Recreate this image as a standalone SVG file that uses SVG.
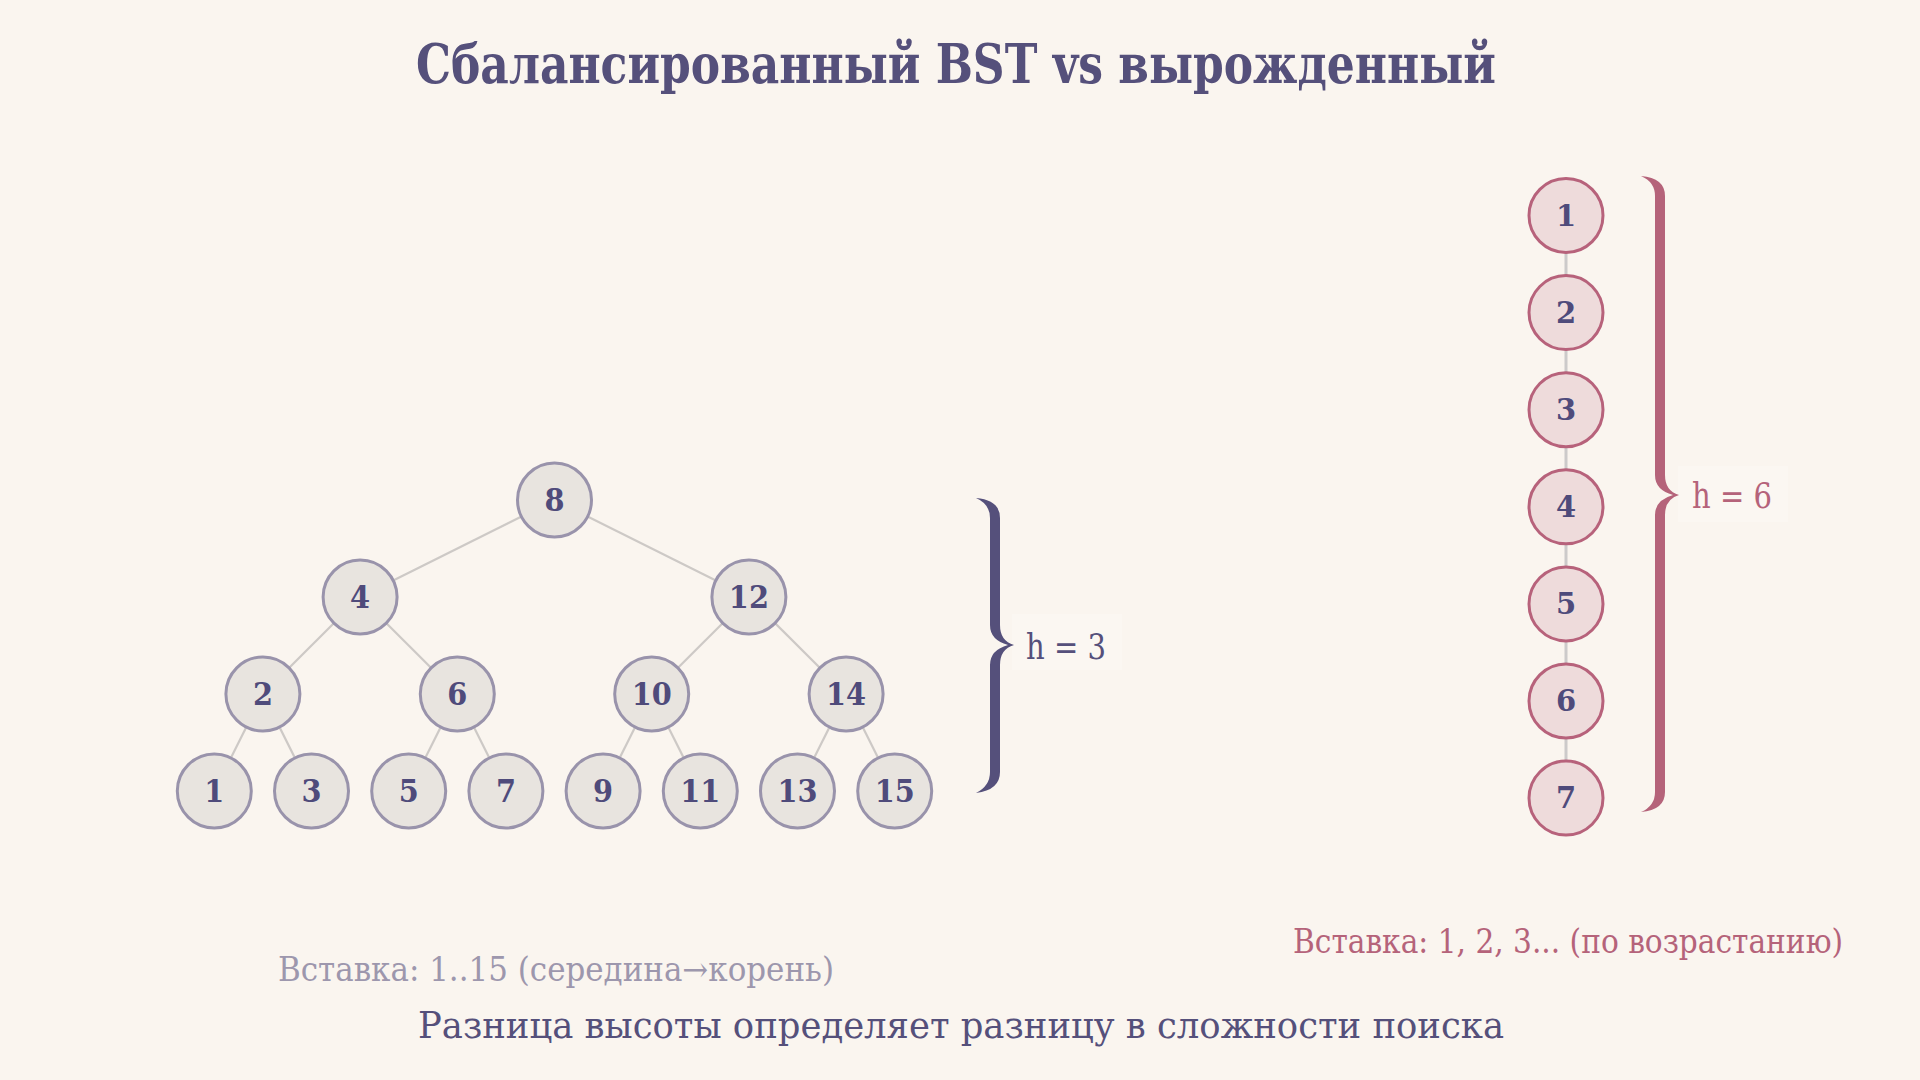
<svg xmlns="http://www.w3.org/2000/svg" width="1920" height="1080" viewBox="0 0 1920 1080">
<defs>
<style>
.bg{fill:#faf5ef}
.edge{stroke:#cdc9c6;stroke-width:2.2;fill:none}
.chainedge{stroke:#cccaca;stroke-width:3;fill:none}
.tn circle{fill:#e8e4df;stroke:#9993ab;stroke-width:3}
.tn text{font-family:"DejaVu Serif Condensed","DejaVu Serif",serif;font-weight:bold;font-size:32px;fill:#4f4b7b;text-anchor:middle}
.cn circle{fill:#eedbdb;stroke:#b7627b;stroke-width:3}
.cn text{font-family:"DejaVu Serif",serif;font-weight:bold;font-size:29px;fill:#4f4b7b;text-anchor:middle}
.title{font-family:"DejaVu Serif Condensed","DejaVu Serif",serif;font-weight:bold;font-size:55px;fill:#55507b}
.lbl{font-family:"DejaVu Serif Condensed","DejaVu Serif",serif;font-size:34px}
.h{font-family:"DejaVu Serif",serif;font-size:35px}
.hbg{fill:#fbf7f2}
</style>
</defs>
<rect class="bg" x="0" y="0" width="1920" height="1080"/>
<text class="title" x="416" y="83" textLength="1080" lengthAdjust="spacingAndGlyphs">Сбалансированный BST vs вырожденный</text>

<g id="connectors">
<line class="edge" x1="554.5" y1="500" x2="360.1" y2="597"/>
<line class="edge" x1="554.5" y1="500" x2="748.9" y2="597"/>
<line class="edge" x1="360.1" y1="597" x2="262.9" y2="694"/>
<line class="edge" x1="360.1" y1="597" x2="457.3" y2="694"/>
<line class="edge" x1="748.9" y1="597" x2="651.7" y2="694"/>
<line class="edge" x1="748.9" y1="597" x2="846.1" y2="694"/>
<line class="edge" x1="262.9" y1="694" x2="214.3" y2="791"/>
<line class="edge" x1="262.9" y1="694" x2="311.5" y2="791"/>
<line class="edge" x1="457.3" y1="694" x2="408.7" y2="791"/>
<line class="edge" x1="457.3" y1="694" x2="505.9" y2="791"/>
<line class="edge" x1="651.7" y1="694" x2="603.1" y2="791"/>
<line class="edge" x1="651.7" y1="694" x2="700.3" y2="791"/>
<line class="edge" x1="846.1" y1="694" x2="797.5" y2="791"/>
<line class="edge" x1="846.1" y1="694" x2="894.7" y2="791"/>
<line class="chainedge" x1="1566" y1="215.5" x2="1566" y2="798.1"/>
</g>

<g id="t8" class="tn"><circle cx="554.5" cy="500" r="37"/><text x="554.5" y="511">8</text></g>
<g id="t4" class="tn"><circle cx="360.1" cy="597" r="37"/><text x="360.1" y="608">4</text></g>
<g id="t12" class="tn"><circle cx="748.9" cy="597" r="37"/><text x="748.9" y="608">12</text></g>
<g id="t2" class="tn"><circle cx="262.9" cy="694" r="37"/><text x="262.9" y="705">2</text></g>
<g id="t6" class="tn"><circle cx="457.3" cy="694" r="37"/><text x="457.3" y="705">6</text></g>
<g id="t10" class="tn"><circle cx="651.7" cy="694" r="37"/><text x="651.7" y="705">10</text></g>
<g id="t14" class="tn"><circle cx="846.1" cy="694" r="37"/><text x="846.1" y="705">14</text></g>
<g id="t1" class="tn"><circle cx="214.3" cy="791" r="37"/><text x="214.3" y="802">1</text></g>
<g id="t3" class="tn"><circle cx="311.5" cy="791" r="37"/><text x="311.5" y="802">3</text></g>
<g id="t5" class="tn"><circle cx="408.7" cy="791" r="37"/><text x="408.7" y="802">5</text></g>
<g id="t7" class="tn"><circle cx="505.9" cy="791" r="37"/><text x="505.9" y="802">7</text></g>
<g id="t9" class="tn"><circle cx="603.1" cy="791" r="37"/><text x="603.1" y="802">9</text></g>
<g id="t11" class="tn"><circle cx="700.3" cy="791" r="37"/><text x="700.3" y="802">11</text></g>
<g id="t13" class="tn"><circle cx="797.5" cy="791" r="37"/><text x="797.5" y="802">13</text></g>
<g id="t15" class="tn"><circle cx="894.7" cy="791" r="37"/><text x="894.7" y="802">15</text></g>

<g id="c1" class="cn"><circle cx="1566" cy="215.5" r="37"/><text x="1566" y="226">1</text></g>
<g id="c2" class="cn"><circle cx="1566" cy="312.6" r="37"/><text x="1566" y="323">2</text></g>
<g id="c3" class="cn"><circle cx="1566" cy="409.7" r="37"/><text x="1566" y="420">3</text></g>
<g id="c4" class="cn"><circle cx="1566" cy="506.8" r="37"/><text x="1566" y="517">4</text></g>
<g id="c5" class="cn"><circle cx="1566" cy="603.9" r="37"/><text x="1566" y="614">5</text></g>
<g id="c6" class="cn"><circle cx="1566" cy="701" r="37"/><text x="1566" y="711">6</text></g>
<g id="c7" class="cn"><circle cx="1566" cy="798.1" r="37"/><text x="1566" y="808">7</text></g>

<g id="brace-balanced">
<rect class="hbg" x="1012" y="614" width="110" height="56"/>
<path fill="#55507b" d="M976 498 Q1000 500 1000 518 L1000 625 Q1000 641 1014 645 Q1000 649 1000 665 L1000 772 Q1000 790 976 793 Q990 786 990 772 L990 665 Q990 650 1008 645 Q990 640 990 625 L990 518 Q990 504 976 498 Z"/>
<text class="h" x="1026" y="659" fill="#55507b" textLength="80" lengthAdjust="spacingAndGlyphs">h = 3</text>
</g>

<g id="brace-degenerate">
<rect class="hbg" x="1678" y="466" width="110" height="56"/>
<path fill="#b5637a" d="M1641 176 Q1665 178 1665 196 L1665 475 Q1665 491 1679 495 Q1665 499 1665 515 L1665 792 Q1665 810 1641 812 Q1655 806 1655 792 L1655 515 Q1655 500 1673 495 Q1655 490 1655 475 L1655 196 Q1655 182 1641 176 Z"/>
<text class="h" x="1692" y="508" fill="#b5637a" textLength="80" lengthAdjust="spacingAndGlyphs">h = 6</text>
</g>

<text class="lbl" x="278" y="981" fill="#9d97ad" textLength="556" lengthAdjust="spacingAndGlyphs">Вставка: 1..15 (середина→корень)</text>
<text class="lbl" x="1293" y="953" fill="#b5637a" textLength="550" lengthAdjust="spacingAndGlyphs">Вставка: 1, 2, 3... (по возрастанию)</text>
<text class="lbl" x="418" y="1038" fill="#55507b" style="font-size:37px" textLength="1086" lengthAdjust="spacingAndGlyphs">Разница высоты определяет разницу в сложности поиска</text>
</svg>
